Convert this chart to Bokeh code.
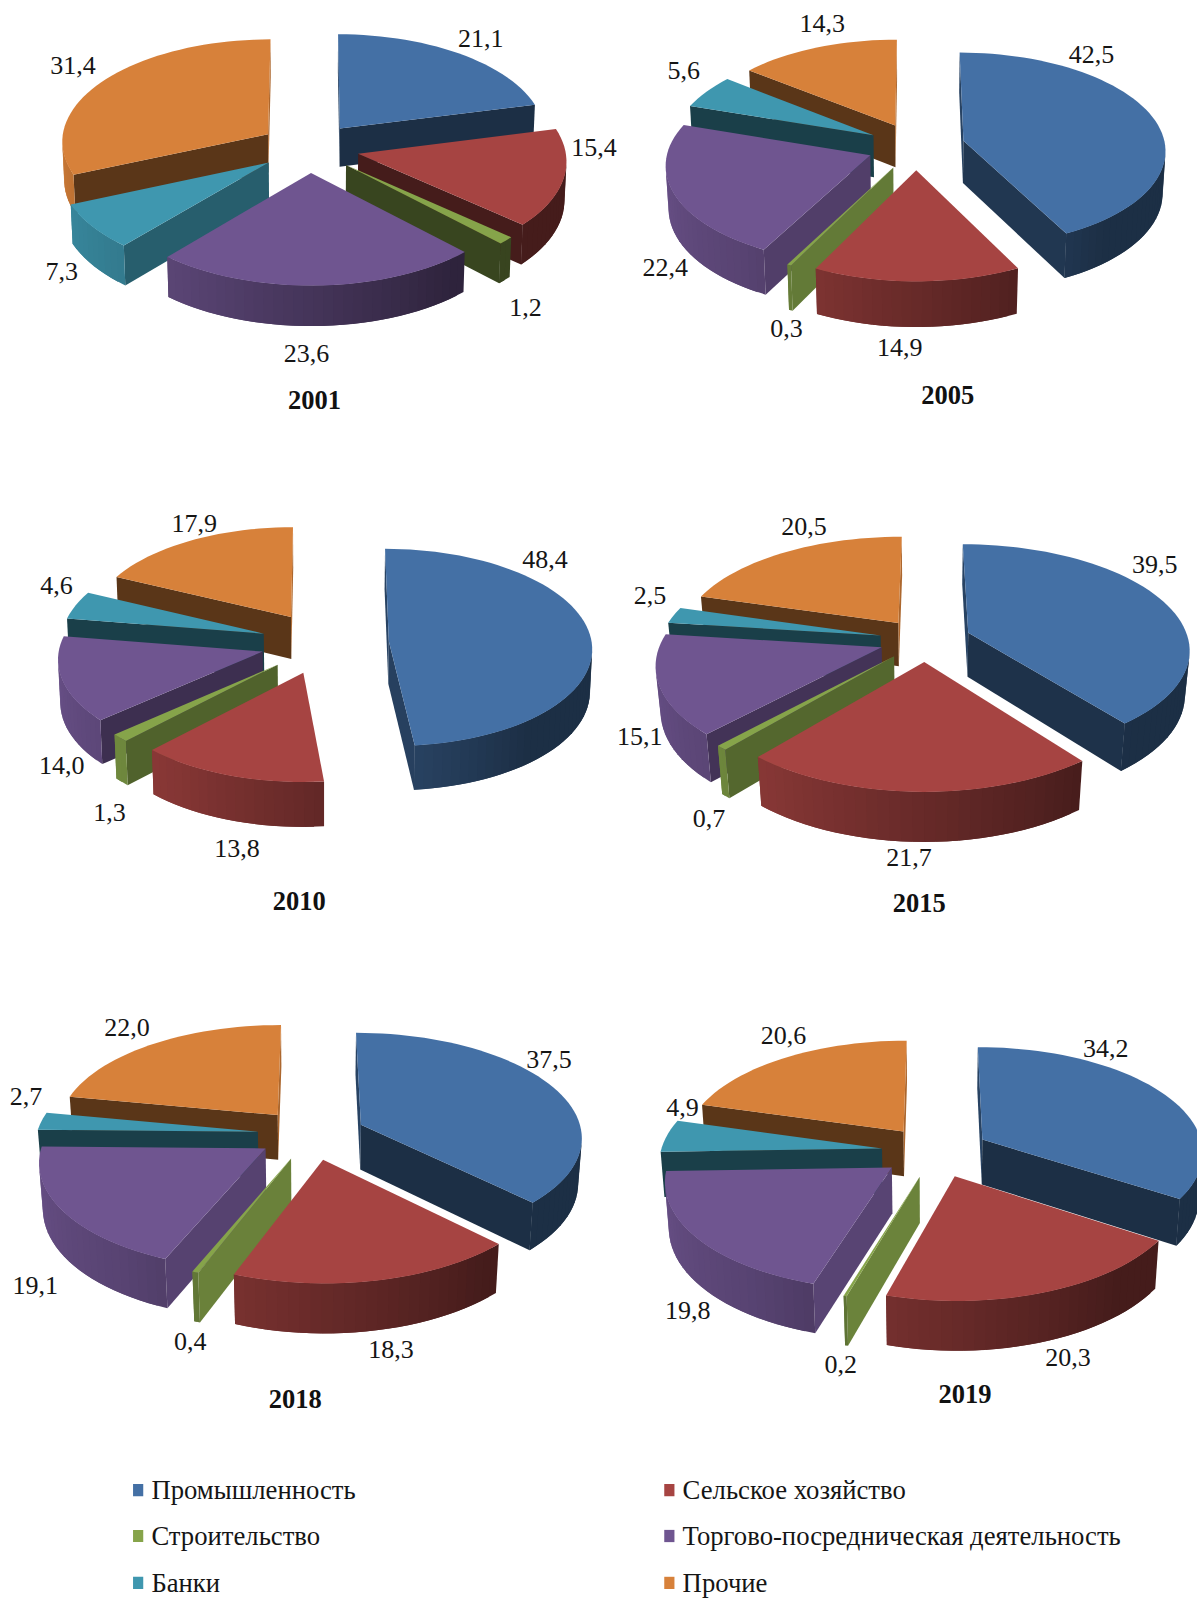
import math
import numpy as np
from bokeh.plotting import figure
from bokeh.models import Range1d
from bokeh.core.properties import value
from bokeh.embed import file_html
from bokeh.resources import INLINE

# ---- data ----
CATEGORIES = ["Промышленность", "Сельское хозяйство", "Строительство",
              "Торгово-посредническая деятельность", "Банки", "Прочие"]
YEARS = ["2001", "2005", "2010", "2015", "2018", "2019"]
V2001 = [21.1, 15.4, 1.2, 23.6, 7.3, 31.4]
V2005 = [42.5, 14.9, 0.3, 22.4, 5.6, 14.3]
V2010 = [48.4, 13.8, 1.3, 14.0, 4.6, 17.9]
V2015 = [39.5, 21.7, 0.7, 15.1, 2.5, 20.5]
V2018 = [37.5, 18.3, 0.4, 19.1, 2.7, 22.0]
V2019 = [34.2, 20.3, 0.2, 19.8, 4.9, 20.6]
SERIES = [V2001, V2005, V2010, V2015, V2018, V2019]

# ---- styles and layout (in coordinates of a 1174 wide picture) ----
COLORS = ["#4470A5", "#A64442", "#86A44A", "#6F5590", "#3F97AF", "#D7813A"]
S = 1197 / 1174
# cx, cy, radius, explosion offset, wall height, sine of tilt, camera distance
GEOM = [
    (303, 144.5, 203, 49, 38, 0.495, 14.0),
    (898, 143, 198, 48, 42, 0.48, 10.0),
    (318, 630, 199, 63, 42, 0.485, 14.0),
    (907, 627, 216, 45, 44, 0.47, 6.0),
    (305, 1112, 217, 53, 45, 0.47, 8.0),
    (917, 1129, 217, 53, 45, 0.475, 8.0),
]
LABELS = [
    [(471, 37), (582, 144), (515, 301), (300, 346), (60, 266), (71, 64)],
    [(1070, 53), (882, 340), (771, 322), (652, 262), (670, 69), (806, 23)],
    [(534, 548), (232, 832), (107, 796), (60, 750), (55, 574), (190, 513)],
    [(1132, 553), (891, 841), (695, 802), (627, 722), (637, 584), (788, 516)],
    [(538, 1039), (383, 1323), (186, 1315), (34, 1260), (25, 1075), (124, 1007)],
    [(1084, 1028), (1047, 1331), (824, 1338), (674, 1285), (669, 1086), (768, 1015)],
]
TITLES = [(308, 392), (929, 387), (293, 883), (901, 885), (289, 1372), (946, 1367)]
LEG_ROWS = [1461, 1506, 1552]
LEG_COLS = [(130, 148), (651, 669)]


def shade(hex_c, f):
    r, g, b = [int(hex_c[i:i + 2], 16) for i in (1, 3, 5)]
    return "#%02x%02x%02x" % (int(r * f), int(g * f), int(b * f))


def cut_light(phi):
    return float(np.interp(phi % 360, [0, 110, 155, 225, 270, 360], [.8, .8, .42, .42, .6, .8]))


def rim_light(phi):
    return float(np.interp(phi % 360, [0, 140, 215, 280, 360], [.42, .42, .8, .98, .98]))


def proj(g, u, v, z):
    cx, cy, R, sin_t, dist = g[0], g[1], g[2], g[5], g[6]
    cos_t = math.sqrt(1 - sin_t ** 2)
    depth = v * cos_t + z * sin_t
    s = dist / (dist - depth)
    return cx + R * u * s, cy + R * (v * sin_t - z * cos_t) * s


def area(pts):
    return sum(pts[i][0] * pts[(i + 1) % len(pts)][1] - pts[(i + 1) % len(pts)][0] * pts[i][1]
               for i in range(len(pts)))


xs, ys, fills = [], [], []


def add(pts, c):
    xs.append([p[0] for p in pts])
    ys.append([p[1] for p in pts])
    fills.append(c)


def draw_pie(vals, g):
    R, off, wall = g[2], g[3], g[4]
    e = off / R
    h = wall / (R * math.sqrt(1 - g[5] ** 2))
    edges = np.cumsum([0] + list(vals)) / sum(vals) * 2 * math.pi
    order = []
    for i in range(len(vals)):
        mid = (edges[i] + edges[i + 1]) / 2
        order.append((-math.cos(mid), i))
    for _, i in sorted(order):
        a0, a1 = edges[i], edges[i + 1]
        mid = (a0 + a1) / 2
        ou, ov = e * math.sin(mid), -e * math.cos(mid)
        c = COLORS[i]
        P = lambda a, z, r=1.0: proj(g, ou + r * math.sin(a), ov - r * math.cos(a), z)
        # radial cut faces
        q0 = [P(0, 0, 0), P(a0, 0), P(a0, -h), P(0, -h, 0)]
        if area(q0) < 0:
            add(q0, shade(c, cut_light(math.degrees(a0) - 90)))
        q1 = [P(0, 0, 0), P(a1, 0), P(a1, -h), P(0, -h, 0)]
        if area(q1) > 0:
            add(q1, shade(c, cut_light(math.degrees(a1) + 90)))
        # outer wall: overlapping strips painted in turn, so that no seams show
        n = max(2, int(math.degrees(a1 - a0) / 2.5))
        an = np.linspace(a0, a1, n + 1)
        for k in range(n):
            end = an[min(k + 2, n)]
            q = [P(an[k], 0), P(end, 0), P(end, -h), P(an[k], -h)]
            if area(q) < 0:
                add(q, shade(c, rim_light(math.degrees((an[k] + an[k + 1]) / 2))))
        # top face
        top = [P(0, 0, 0)] + [P(a, 0) for a in an]
        add(top, c)


p = figure(width=1197, height=1599, output_backend="svg", toolbar_location=None,
           x_range=Range1d(0, 1197 / S), y_range=Range1d(1599 / S, 0),
           min_border=0, outline_line_color=None, background_fill_color="white",
           border_fill_color="white")
p.axis.visible = False
p.grid.visible = False

for vals, g in zip(SERIES, GEOM):
    draw_pie(vals, g)
p.patches(xs, ys, fill_color=fills, line_color=None)

lx, ly, lt = [], [], []
for vals, pos in zip(SERIES, LABELS):
    for v, (x, y) in zip(vals, pos):
        lx.append(x)
        ly.append(y)
        lt.append(f"{v:.1f}".replace(".", ","))
p.text(lx, ly, text=lt, text_font=value("Liberation Serif"), text_font_size="26px",
       text_color="#151515", text_align="center", text_baseline="middle")

p.text([t[0] for t in TITLES], [t[1] for t in TITLES], text=YEARS,
       text_font=value("Liberation Serif"), text_font_size="26.5px", text_font_style="bold",
       text_color="#111111", text_align="center", text_baseline="middle")

for i, name in enumerate(CATEGORIES):
    (sq, tx), row = LEG_COLS[i % 2], LEG_ROWS[i // 2]
    p.quad(left=[sq], right=[sq + 10], top=[row - 6], bottom=[row + 6], fill_color=COLORS[i], line_color=None)
    p.text([tx], [row], text=[name], text_font=value("Liberation Serif"), text_font_size="26.7px",
           text_color="#151515", text_align="left", text_baseline="middle")

open("out.html", "w").write(file_html(p, INLINE))
